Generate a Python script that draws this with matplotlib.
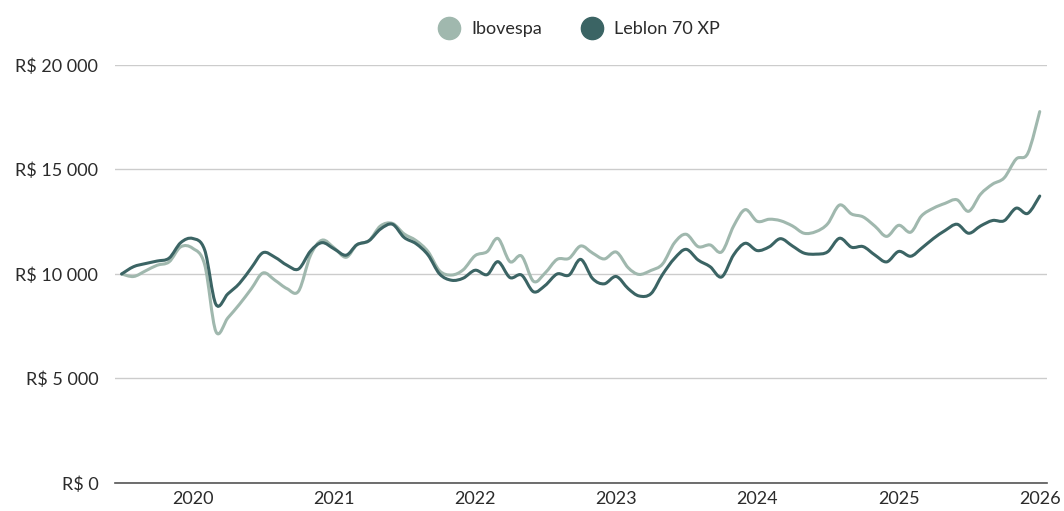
import matplotlib
matplotlib.use('Agg')
import matplotlib.pyplot as plt
import matplotlib.dates as mdates
from matplotlib.path import Path
from matplotlib.patches import PathPatch
from matplotlib.lines import Line2D
import numpy as np
import pandas as pd

months = pd.date_range('2019-07-01', periods=79, freq='MS')

ibovespa = [
    10000, 9880, 10150, 10420, 10580, 11300, 11230, 10450, 7250, 7900,
    8550, 9300, 10050, 9700, 9300, 9180, 10900, 11620, 11250, 10800,
    11400, 11590, 12300, 12420, 11920, 11600, 11070, 10150, 9950, 10200,
    10880, 11070, 11700, 10590, 10860, 9650, 10050, 10700, 10750, 11340,
    11000, 10720, 11050, 10300, 9980, 10170, 10480, 11500, 11900, 11310,
    11390, 11060, 12300, 13080, 12520, 12620, 12550, 12300, 11950, 12030,
    12400, 13300, 12870, 12730, 12280, 11800, 12330, 12000, 12780, 13150,
    13380, 13550, 13000, 13820, 14300, 14600, 15500, 15770, 17770,
]
leblon = [
    10000, 10350, 10500, 10620, 10760, 11500, 11700, 11150, 8550, 9050,
    9550, 10300, 11020, 10800, 10420, 10240, 11100, 11500, 11200, 10900,
    11400, 11590, 12150, 12380, 11750, 11450, 10910, 10000, 9700, 9800,
    10180, 9970, 10590, 9830, 9950, 9150, 9450, 10000, 9950, 10700,
    9780, 9530, 9880, 9300, 8950, 9060, 9980, 10750, 11180, 10670,
    10350, 9860, 10920, 11470, 11120, 11300, 11690, 11340, 11000, 10950,
    11060, 11710, 11280, 11310, 10900, 10580, 11080, 10850, 11230, 11700,
    12080, 12380, 11950, 12300, 12560, 12550, 13150, 12900, 13730,
]

series_names = ['Ibovespa', 'Leblon 70 XP']
colors = ['#a0b8ae', '#3b6464']

yticks = [0, 5000, 10000, 15000, 20000]
ytick_labels = ['R$ 0', 'R$ 5 000', 'R$ 10 000', 'R$ 15 000', 'R$ 20 000']
year_ticks = pd.to_datetime(['2020-01-01', '2021-01-01', '2022-01-01', '2023-01-01',
                             '2024-01-01', '2025-01-01', '2026-01-01'])
year_labels = ['2020', '2021', '2022', '2023', '2024', '2025', '2026']

plt.rcParams['font.family'] = ['Lato', 'DejaVu Sans']


def smooth_path(x, y):
    # catmull-rom segments drawn as cubic bezier curves through the data points
    pts = np.column_stack([x, y])
    n = len(pts)
    verts = [pts[0]]
    codes = [Path.MOVETO]
    for i in range(n - 1):
        p0 = pts[max(i - 1, 0)]
        p1 = pts[i]
        p2 = pts[i + 1]
        p3 = pts[min(i + 2, n - 1)]
        c1 = p1 + (p2 - p0) / 6.0
        c2 = p2 - (p3 - p1) / 6.0
        verts += [c1, c2, p2]
        codes += [Path.CURVE4] * 3
    return Path(verts, codes)


fig = plt.figure(figsize=(10.64, 5.11), dpi=100)
ax = fig.add_axes([0.1081, 0.0548, 0.8760, 0.8180])

xnum = mdates.date2num(months)
for vals, color in zip([ibovespa, leblon], colors):
    patch = PathPatch(smooth_path(xnum, np.array(vals, dtype=float)),
                      facecolor='none', edgecolor=color, lw=2.2,
                      capstyle='round', joinstyle='round')
    ax.add_patch(patch)

ax.set_xlim(pd.Timestamp('2019-06-14'), pd.Timestamp('2026-01-20'))
ax.set_ylim(0, 20000)
ax.set_yticks(yticks)
ax.set_yticklabels(ytick_labels)
ax.set_xticks(year_ticks)
ax.set_xticklabels(year_labels)

for s in ['top', 'right', 'left']:
    ax.spines[s].set_visible(False)
ax.spines['bottom'].set_color('#555555')
ax.spines['bottom'].set_linewidth(1.2)
ax.grid(axis='y', color='#cccccc', lw=1.0)
ax.set_axisbelow(True)
ax.tick_params(axis='both', length=0, labelsize=13, colors='#2b2b2b')
ax.tick_params(axis='y', pad=12)
ax.tick_params(axis='x', pad=6)

handles = [Line2D([], [], marker='o', linestyle='none', markersize=16,
                  markerfacecolor=c, markeredgecolor=c) for c in colors]
fig.legend(handles, series_names, loc='center', bbox_to_anchor=(0.541, 0.943),
           ncol=2, frameon=False, fontsize=13, handletextpad=0.2,
           columnspacing=1.8, labelcolor='#2b2b2b')

fig.savefig('out.png', dpi=100)
